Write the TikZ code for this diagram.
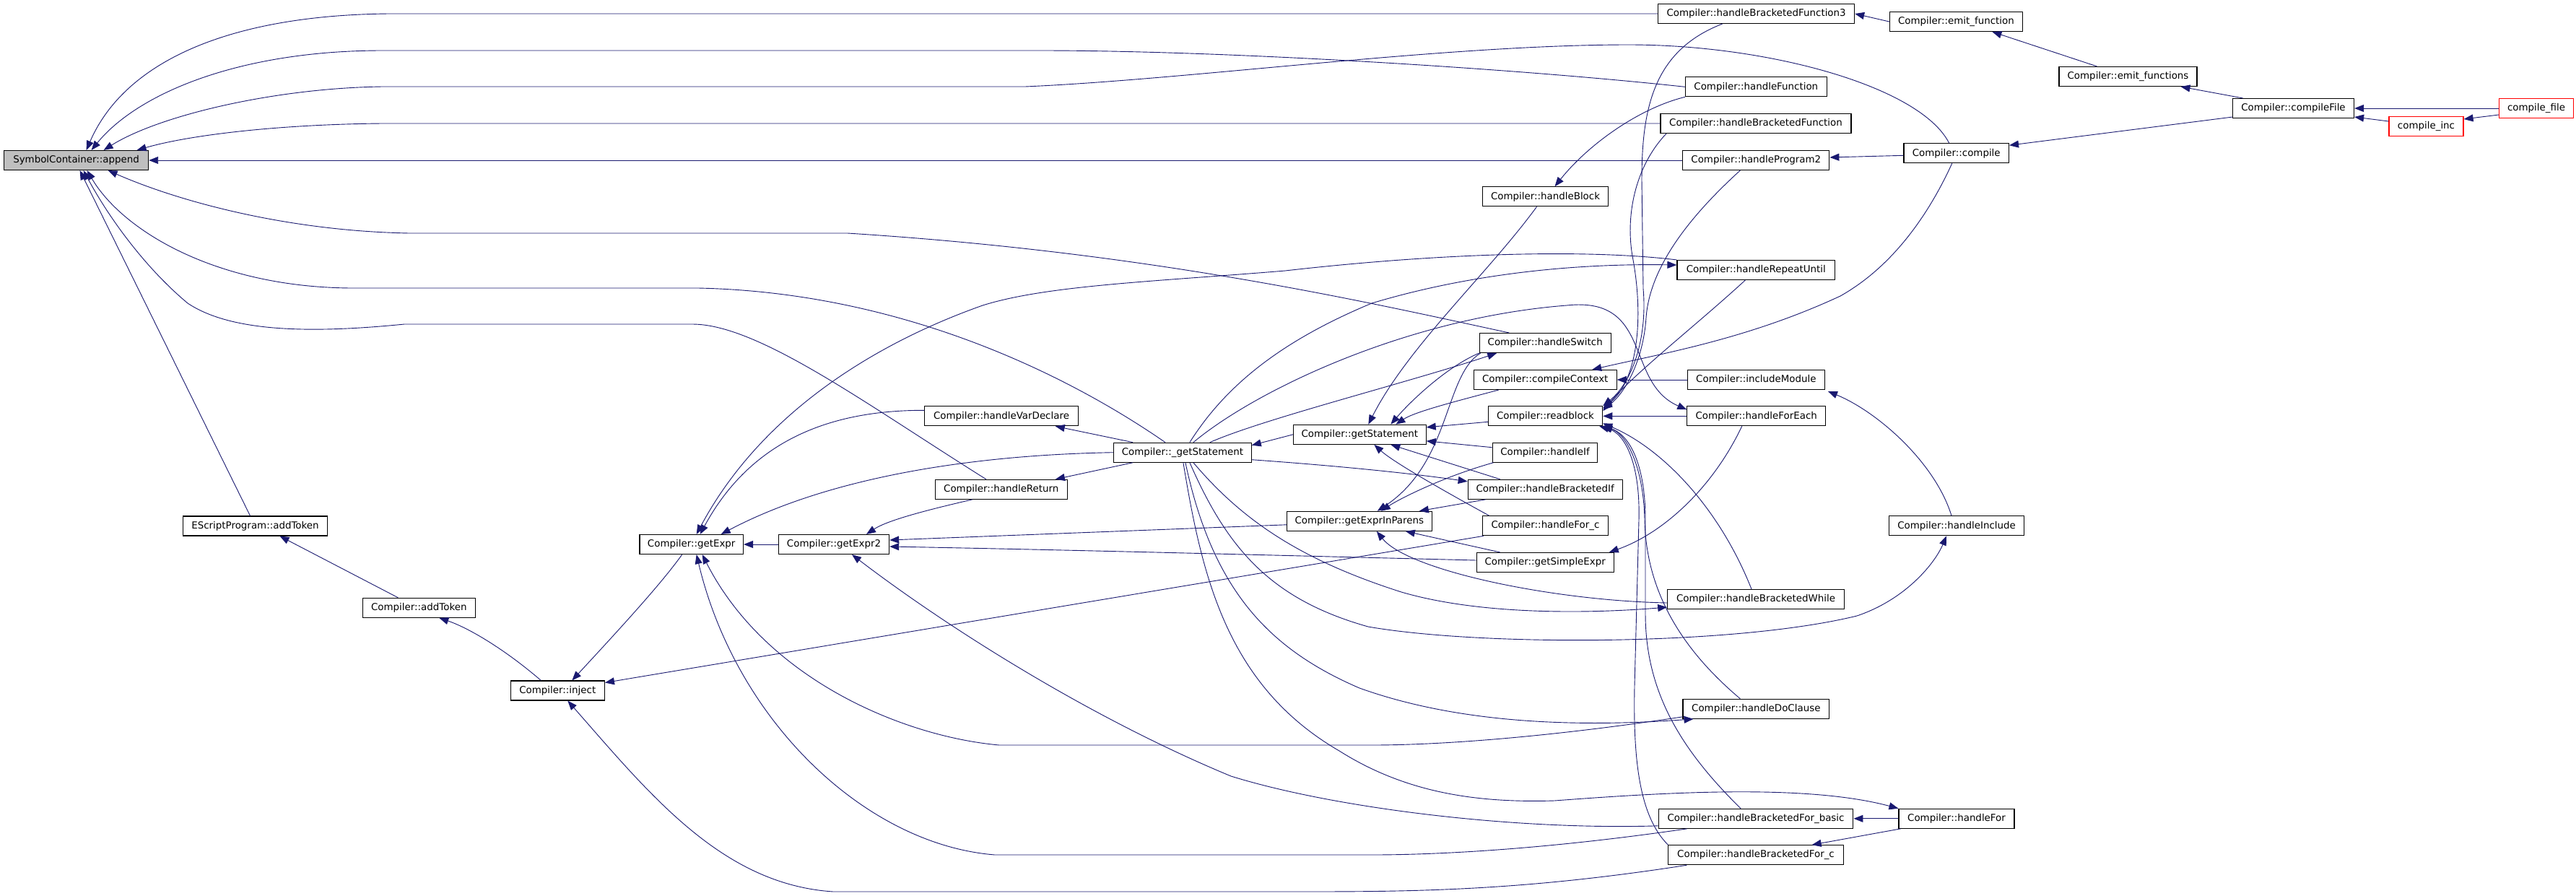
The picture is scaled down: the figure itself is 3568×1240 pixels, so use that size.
\documentclass[tikz,border=0pt]{standalone}
\usepackage{fontspec}
\setmainfont{DejaVu Sans}
\usetikzlibrary{arrows.meta}
\definecolor{edgeblue}{HTML}{191970}
\definecolor{appendgray}{HTML}{BFBFBF}
\definecolor{nodered}{HTML}{FF0000}
\begin{document}
\begin{tikzpicture}[x=1pt,y=-1pt,
  fnbox/.style={draw=black, line width=1.1pt, fill=white, minimum height=27pt, inner sep=0pt, font=\fontsize{13.4}{16}\selectfont},
  redbox/.style={fnbox, draw=nodered},
  callarrow/.style={draw=edgeblue, line width=0.9pt, -{Triangle[length=13pt,width=10pt]}}]
\useasboundingbox[fill=white] (0,0) rectangle (3568,1240);

% nodes
\node[fnbox, fill=appendgray, minimum width=200pt] (append) at (105.6,222) {SymbolContainer::append};
\node[fnbox, minimum width=272pt] (hbft) at (2432.6,19) {Compiler::handleBracketedFunction3};
\node[fnbox, minimum width=184pt] (emitf) at (2709.4,30) {Compiler::emit\_function};
\node[fnbox, minimum width=191pt] (emitfs) at (2947.5,106) {Compiler::emit\_functions};
\node[fnbox, minimum width=168pt] (cfilem) at (3176.5,150) {Compiler::compileFile};
\node[redbox, minimum width=103pt] (cfile) at (3513,150) {compile\_file};
\node[redbox, minimum width=103pt] (cinc) at (3360.5,175) {compile\_inc};
\node[fnbox, minimum width=196pt] (hfunc) at (2432.3,120.3) {Compiler::handleFunction};
\node[fnbox, minimum width=264pt] (hbf) at (2432,171) {Compiler::handleBracketedFunction};
\node[fnbox, minimum width=203pt] (hprog) at (2432.3,222) {Compiler::handleProgram2};
\node[fnbox, minimum width=145.5pt] (compile) at (2709.7,212.3) {Compiler::compile};
\node[fnbox, minimum width=174.5pt] (hblock) at (2140.5,272.3) {Compiler::handleBlock};
\node[fnbox, minimum width=218.7pt] (hrepeat) at (2432.3,374) {Compiler::handleRepeatUntil};
\node[fnbox, minimum width=182pt] (hswitch) at (2140.2,475) {Compiler::handleSwitch};
\node[fnbox, minimum width=198pt] (ccontext) at (2140.2,526) {Compiler::compileContext};
\node[fnbox, minimum width=158.4pt] (readblock) at (2140.5,576.3) {Compiler::readblock};
\node[fnbox, minimum width=183.7pt] (getstmt) at (1883.3,601.8) {Compiler::getStatement};
\node[fnbox, minimum width=145.8pt] (hif) at (2140,626.7) {Compiler::handleIf};
\node[fnbox, minimum width=214pt] (hbif) at (2140.2,677.8) {Compiler::handleBracketedIf};
\node[fnbox, minimum width=201pt] (gein) at (1882.8,721.8) {Compiler::getExprInParens};
\node[fnbox, minimum width=174.5pt] (hforc) at (2140.5,728.3) {Compiler::handleFor\_c};
\node[fnbox, minimum width=190pt] (gse) at (2140.2,779) {Compiler::getSimpleExpr};
\node[fnbox, minimum width=190pt] (incmod) at (2432.4,526) {Compiler::includeModule};
\node[fnbox, minimum width=191.7pt] (hforeach) at (2432.7,576.3) {Compiler::handleForEach};
\node[fnbox, minimum width=244.5pt] (hbwhile) at (2432,830) {Compiler::handleBracketedWhile};
\node[fnbox, minimum width=187.4pt] (hinclude) at (2710,728.3) {Compiler::handleInclude};
\node[fnbox, minimum width=202.6pt] (hdo) at (2432.3,981.8) {Compiler::handleDoClause};
\node[fnbox, minimum width=269.8pt] (hbfb) at (2432,1133.8) {Compiler::handleBracketedFor\_basic};
\node[fnbox, minimum width=242.2pt] (hbfc) at (2432,1184.2) {Compiler::handleBracketedFor\_c};
\node[fnbox, minimum width=160pt] (hfor) at (2710,1133.8) {Compiler::handleFor};
\node[fnbox, minimum width=199.7pt] (escript) at (353.5,728.5) {EScriptProgram::addToken};
\node[fnbox, minimum width=156.2pt] (addtok) at (580.3,841.8) {Compiler::addToken};
\node[fnbox, minimum width=130.2pt] (inject) at (772.3,956.5) {Compiler::inject};
\node[fnbox, minimum width=143.5pt] (getexpr) at (957.7,754) {Compiler::getExpr};
\node[fnbox, minimum width=153.2pt] (getexprb) at (1155,754) {Compiler::getExpr2};
\node[fnbox, minimum width=212.4pt] (hvar) at (1387,576.3) {Compiler::handleVarDeclare};
\node[fnbox, minimum width=183.1pt] (hret) at (1386.8,677.8) {Compiler::handleReturn};
\node[fnbox, minimum width=190.6pt] (gstmtu) at (1637.9,626.7) {Compiler::\_getStatement};

% edges into append
\draw[callarrow] (hbft.west) -- (560,19) .. controls (330,17) and (175,80) .. ([xshift=14pt]append.north);
\draw[callarrow] (hfunc.west) .. controls (2100,95) and (1700,70) .. (1440,70) -- (530,70) .. controls (330,70) and (190,130) .. ([xshift=21pt]append.north);
\draw[callarrow] ([xshift=-10pt]compile.north) .. controls (2660,120) and (2450,62) .. (2256,62) .. controls (2000,62) and (1650,110) .. (1420,120) -- (530,120) .. controls (380,122) and (220,160) .. ([xshift=38pt]append.north);
\draw[callarrow] (hbf.west) -- (530,171) .. controls (400,172) and (270,185) .. ([xshift=84pt]append.north);
\draw[callarrow] (hprog.west) -- (append.east);
\draw[callarrow] ([xshift=-50pt]hswitch.north) .. controls (1900,420) and (1600,350) .. (1174,323) -- (567,323) .. controls (400,320) and (250,280) .. ([xshift=44pt]append.south);
\draw[callarrow] ([xshift=-24pt]gstmtu.north) .. controls (1480,520) and (1250,405) .. (967,399) -- (487,399) .. controls (300,398) and (170,320) .. ([xshift=15pt]append.south);
\draw[callarrow] ([xshift=-7pt]escript.north) -- ([xshift=5pt]append.south);
\draw[callarrow] ([xshift=-21pt]hret.north) .. controls (1200,560) and (1050,449) .. (959,449) -- (560,449) .. controls (430,462) and (320,460) .. (260,420) .. controls (200,370) and (150,300) .. ([xshift=10pt]append.south);

% upper right cluster
\draw[callarrow] (emitf.west) -- (hbft.east);
\draw[callarrow] ([xshift=-43pt]emitfs.north) -- ([xshift=50pt]emitf.south);
\draw[callarrow] ([xshift=-70pt]cfilem.north) -- ([xshift=73pt]emitfs.south);
\draw[callarrow] ([yshift=2pt]cfilem.south west) -- ([yshift=-3pt]compile.north east);
\draw[callarrow] (cfile.west) -- (cfilem.east);
\draw[callarrow] ([yshift=7pt]cinc.west) -- ([yshift=-12pt]cfilem.east);
\draw[callarrow] ([yshift=-9pt]cfile.west) -- ([yshift=10pt]cinc.east);
\draw[callarrow] ([yshift=-3pt]compile.west) -- ([yshift=4pt]hprog.east);
\draw[callarrow] (hfunc.south west) .. controls (2270,150) and (2200,200) .. ([xshift=13pt]hblock.north);
\draw[callarrow] ([xshift=-12pt]hblock.south) .. controls (2060,380) and (1950,480) .. ([xshift=12pt]getstmt.north);

% into readblock
\draw[callarrow] ([xshift=-47pt]hbft.south) .. controls (2290,70) and (2274,150) .. (2274,250) -- (2276,400) .. controls (2282,470) and (2260,530) .. (readblock.north east);
\draw[callarrow] ([xshift=-124pt]hbf.south) .. controls (2265,230) and (2250,300) .. (2262,360) .. controls (2278,450) and (2265,530) .. ([yshift=-3pt]readblock.north east);
\draw[callarrow] ([xshift=-22pt]hprog.south) .. controls (2340,300) and (2285,370) .. (2280,440) .. controls (2276,500) and (2250,545) .. ([yshift=-5pt]readblock.north east);
\draw[callarrow] ([xshift=-15pt]hrepeat.south) .. controls (2350,450) and (2260,520) .. ([yshift=-7pt]readblock.north east);
\draw[callarrow] (hforeach.west) -- (readblock.east);
\draw[callarrow] ([xshift=-6pt]hbwhile.north) .. controls (2380,700) and (2300,620) .. ([yshift=4pt]readblock.south east);
\draw[callarrow] ([xshift=-22pt]hdo.north) .. controls (2330,900) and (2280,820) .. (2278,720) .. controls (2276,640) and (2250,600) .. (readblock.south east);
\draw[callarrow] ([xshift=-21pt]hbfb.north) .. controls (2330,1040) and (2279,960) .. (2279,850) -- (2279,720) .. controls (2279,640) and (2255,600) .. ([xshift=-2pt]readblock.south east);
\draw[callarrow] (hbfc.north west) .. controls (2270,1130) and (2262,1050) .. (2264,950) -- (2270,720) .. controls (2272,640) and (2250,600) .. ([xshift=-5pt]readblock.south east);

% compileContext, includes
\draw[callarrow] ([xshift=-6pt]compile.south) .. controls (2670,300) and (2620,370) .. (2549,410) .. controls (2420,470) and (2300,490) .. ([xshift=65pt]ccontext.north);
\draw[callarrow] (incmod.west) -- (ccontext.east);
\draw[callarrow] ([xshift=-7pt]hinclude.north) .. controls (2680,640) and (2600,570) .. ([xshift=4pt,yshift=-2pt]incmod.south east);

% handleRepeatUntil
\draw[callarrow] (hrepeat.north west) .. controls (2200,345) and (2000,350) .. (1780,375) .. controls (1600,390) and (1450,395) .. (1361,423) .. controls (1200,480) and (1050,580) .. ([xshift=7pt]getexpr.north);
\draw[callarrow] ([xshift=10pt]gstmtu.north) .. controls (1700,530) and (1780,470) .. (1900,420) .. controls (2050,375) and (2200,365) .. ([yshift=7pt]hrepeat.west);

% from _getStatement
\draw[callarrow] ([xshift=15pt]gstmtu.north) .. controls (1740,540) and (1950,440) .. (2170,423) .. controls (2290,410) and (2250,530) .. ([yshift=9pt]hforeach.west);
\draw[callarrow] ([xshift=38pt]gstmtu.north) .. controls (1750,580) and (1950,530) .. ([xshift=-67pt]hswitch.south);
\draw[callarrow] (getstmt.west) -- ([yshift=10pt]gstmtu.east);
\draw[callarrow] ([yshift=-10pt]gstmtu.east) .. controls (1850,645) and (1950,655) .. ([yshift=11pt]hbif.west);
\draw[callarrow] ([xshift=27pt]gstmtu.north west) -- ([xshift=-32pt]hvar.south east);
\draw[callarrow] ([xshift=27pt]gstmtu.south west) -- ([xshift=-17pt]hret.north east);
\draw[callarrow] (gstmtu.west) .. controls (1350,630) and (1150,660) .. ([xshift=41pt]getexpr.north);
\draw[callarrow] ([xshift=15pt]gstmtu.south) .. controls (1720,720) and (1800,775) .. (1941,820) .. controls (2050,852) and (2200,850) .. ([yshift=-11pt]hbwhile.west);
\draw[callarrow] ([xshift=1pt]gstmtu.south) .. controls (1665,800) and (1700,950) .. (1855,1040) .. controls (1950,1100) and (2050,1112) .. (2153,1109) .. controls (2300,1098) and (2500,1085) .. (hfor.north west);
\draw[callarrow] ([xshift=4pt]gstmtu.south) .. controls (1680,820) and (1760,900) .. (1883,953) .. controls (2000,995) and (2150,1010) .. ([xshift=15pt]hdo.south west);
\draw[callarrow] ([xshift=10pt]gstmtu.south) .. controls (1700,760) and (1760,830) .. (1895,868) .. controls (2050,895) and (2400,895) .. (2572,853) .. controls (2640,830) and (2680,780) .. ([xshift=-14pt]hinclude.south);

% into getStatement
\draw[callarrow] ([yshift=-8pt]readblock.west) -- ([yshift=10pt]getstmt.east);
\draw[callarrow] ([yshift=7pt]hif.west) -- ([yshift=-9pt]getstmt.east);
\draw[callarrow] ([xshift=45pt]hbif.north west) -- ([xshift=43pt]getstmt.south);
\draw[callarrow] ([xshift=10pt]hforc.north west) .. controls (2000,680) and (1930,640) .. ([xshift=20pt]getstmt.south);
\draw[callarrow] (hswitch.south west) .. controls (2000,510) and (1950,560) .. ([xshift=43pt]getstmt.north);
\draw[callarrow] ([xshift=35pt]ccontext.south west) .. controls (2020,555) and (1960,570) .. ([xshift=50pt]getstmt.north);

% into getExprInParens
\draw[callarrow] ([xshift=2pt]hif.south west) .. controls (2000,660) and (1940,690) .. ([xshift=30pt]gein.north);
\draw[callarrow] ([xshift=2pt]hswitch.south west) .. controls (2000,520) and (2010,640) .. ([xshift=25pt]gein.north);
\draw[callarrow] ([xshift=25pt]hbif.south west) -- ([xshift=83pt]gein.north);
\draw[callarrow] ([xshift=33pt]gse.north west) -- ([xshift=64pt]gein.south);
\draw[callarrow] ([yshift=-5pt]hbwhile.west) .. controls (2150,832) and (1950,790) .. ([xshift=24pt]gein.south);

% getExpr / getExpr2
\draw[callarrow] ([yshift=8pt]hvar.west) .. controls (1150,568) and (1040,610) .. ([xshift=12pt]getexpr.north);
\draw[callarrow] (getexprb.west) -- (getexpr.east);
\draw[callarrow] ([xshift=-40pt]hret.south) .. controls (1290,705) and (1230,720) .. ([xshift=45pt]getexprb.north);
\draw[callarrow] ([yshift=-5pt]gein.west) -- ([yshift=6pt]getexprb.east);
\draw[callarrow] ([yshift=3pt]gse.west) .. controls (1800,770) and (1500,762) .. ([yshift=-3pt]getexprb.east);
\draw[callarrow] ([xshift=-20pt]hforeach.south) .. controls (2370,680) and (2300,740) .. ([xshift=-7pt]gse.north east);
\draw[callarrow] ([yshift=-10pt]hbfb.west) .. controls (2100,1150) and (1850,1120) .. (1705,1075) .. controls (1500,990) and (1300,860) .. ([xshift=25pt]getexprb.south);
\draw[callarrow] ([xshift=40pt]hbfb.south west) .. controls (2150,1175) and (2000,1184) .. (1900,1184) -- (1378,1184) .. controls (1200,1170) and (1020,1000) .. ([xshift=7pt]getexpr.south);
\draw[callarrow] ([yshift=3pt]hdo.south west) .. controls (2150,1020) and (2000,1032) .. (1900,1032) -- (1384,1032) .. controls (1250,1020) and (1060,940) .. ([xshift=15pt]getexpr.south);

% handleFor
\draw[callarrow] (hfor.west) -- (hbfb.east);
\draw[callarrow] ([xshift=3pt]hfor.south west) -- ([xshift=-44pt]hbfc.north east);

% inject and tokens
\draw[callarrow] ([xshift=-13pt]getexpr.south) .. controls (915,810) and (850,880) .. ([xshift=20pt]inject.north);
\draw[callarrow] ([xshift=2pt]hforc.south west) -- ([yshift=11pt]inject.east);
\draw[callarrow] ([xshift=26pt]hbfc.south west) .. controls (2100,1235) and (1950,1235) .. (1790,1235) -- (1154,1235) .. controls (1000,1225) and (900,1100) .. ([xshift=14pt]inject.south);
\draw[callarrow] ([xshift=-23pt]inject.north) .. controls (700,900) and (650,870) .. ([xshift=28pt]addtok.south);
\draw[callarrow] ([xshift=-29pt]addtok.north) -- ([xshift=34pt]escript.south);
\end{tikzpicture}
\end{document}
